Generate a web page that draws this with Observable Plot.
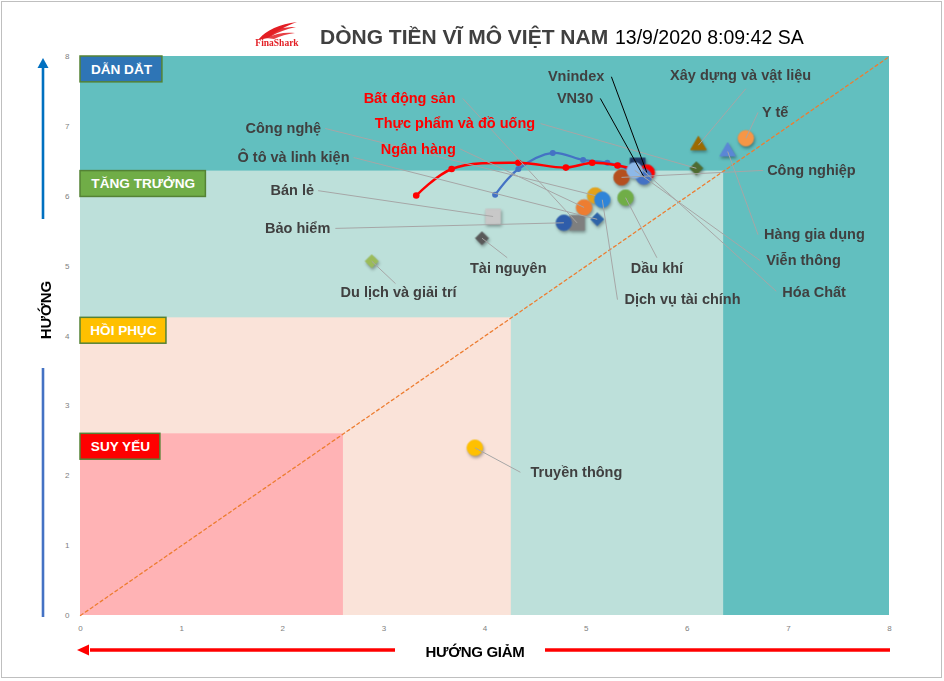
<!DOCTYPE html>
<html>
<head>
<meta charset="utf-8">
<script src="https://cdn.jsdelivr.net/npm/d3@7"></script>
<script src="https://cdn.jsdelivr.net/npm/@observablehq/plot@0.6"></script>
<style>
  body { margin: 0; background: #fff; font-family: "Liberation Sans", Arial, sans-serif; }
  #wrap { position: relative; width: 944px; height: 681px; overflow: hidden; background: #fff; }
  #wrap > svg.plot { position: absolute; left: 0; top: 0; }
  .abs { position: absolute; white-space: nowrap; }
  #border { position: absolute; left: 1px; top: 1px; width: 939px; height: 675px; border: 1px solid #BFBFBF; pointer-events: none; }
  #title { left: 320px; top: 25px; font-size: 21px; font-weight: bold; color: #404040; }
  #stamp { left: 615px; top: 26px; font-size: 19.5px; color: #000; }
  #ylab { left: 45px; top: 310px; transform: translate(-50%, -50%) rotate(-90deg); font-size: 15px; font-weight: bold; color: #000; }
  #xlab { left: 475px; top: 651px; transform: translate(-50%, -50%); font-size: 15px; font-weight: bold; color: #000; letter-spacing: -0.3px; }
  .shadowed { filter: drop-shadow(1px 2px 1.5px rgba(0,0,0,0.35)); }
</style>
</head>
<body>
<div id="wrap"></div>
<script>
// ---------- data ----------
const sectors = ["Xây dựng và vật liệu", "Y tế", "Hàng gia dụng", "Thực phẩm và đồ uống", "Hóa Chất",
  "Công nghiệp", "Vnindex", "VN30", "Viễn thông", "Dầu khí", "Công nghệ", "Dịch vụ tài chính",
  "Ngân hàng", "Ô tô và linh kiện", "Bất động sản", "Bảo hiểm", "Bán lẻ", "Tài nguyên",
  "Du lịch và giải trí", "Truyền thông"];
const xValues = [6.11, 6.58, 6.40, 6.09, 5.51, 5.35, 5.60, 5.57, 5.48, 5.39, 5.09, 5.16,
  4.98, 5.11, 4.91, 4.78, 4.08, 3.97, 2.88, 3.90];
const yValues = [6.73, 6.83, 6.64, 6.40, 6.44, 6.27, 6.34, 6.28, 6.37, 5.98, 6.01, 5.95,
  5.84, 5.67, 5.62, 5.62, 5.71, 5.40, 5.07, 2.40];
const shapes = ["triangle", "circle", "triangle", "diamond2", "square", "circle", "circle", "circle",
  "circle", "circle", "circle", "circle", "circle", "diamond2", "square", "circle", "square",
  "diamond2", "diamond2", "circle"];
const colors = ["#9C6A00", "#F79646", "#5B86D6", "#4E6B30", "#1F3864", "#B5501F", "#FF0000", "#4472C4",
  "#8DB8E8", "#70AD47", "#E3A21A", "#2E84D8", "#ED7D31", "#2E64A8", "#7F7F7F", "#2F5DAA", "#C8C8C8",
  "#595959", "#9BBB59", "#FFC000"];
const highlighted = ["Bất động sản", "Thực phẩm và đồ uống", "Ngân hàng"];
const indexNames = ["Vnindex", "VN30"];

// trails (recent path of the two indices)
const vnindexTrailX = [3.32, 3.67, 4.33, 4.80, 5.06, 5.31, 5.60];
const vnindexTrailY = [6.01, 6.39, 6.48, 6.41, 6.48, 6.44, 6.34];
const vn30TrailX = [4.10, 4.33, 4.67, 4.97, 5.21, 5.32, 5.57];
const vn30TrailY = [6.02, 6.39, 6.62, 6.52, 6.48, 6.44, 6.28];

// quadrant zones
const zoneEdges = [8, 6.36, 4.26, 2.6];
const zoneNames = ["DẪN DẮT", "TĂNG TRƯỞNG", "HỒI PHỤC", "SUY YẾU"];
const zoneFills = ["#62BFBF", "#BDE0DA", "#FAE3D9", "#FFB3B5"];
const zoneTagFills = ["#2E75B6", "#70AD47", "#FFC000", "#FF0000"];

const xTicks = [0, 1, 2, 3, 4, 5, 6, 7, 8];
const yTicks = [0, 1, 2, 3, 4, 5, 6, 7, 8];

// ---------- annotation layout (label anchor + leader start, data units) ----------
const labelLayout = {
  "Vnindex":              {tx: 5.18, ty: 7.71, lx: 5.25, ly: 7.71, anchor: "end"},
  "VN30":                 {tx: 5.07, ty: 7.40, lx: 5.14, ly: 7.40, anchor: "end"},
  "Bất động sản":         {tx: 2.80, ty: 7.40, lx: 3.78, ly: 7.40, anchor: "start"},
  "Thực phẩm và đồ uống": {tx: 2.91, ty: 7.04, lx: 4.55, ly: 7.04, anchor: "start"},
  "Ngân hàng":            {tx: 2.97, ty: 6.67, lx: 3.75, ly: 6.68, anchor: "start"},
  "Công nghệ":            {tx: 2.38, ty: 6.97, lx: 2.42, ly: 6.97, anchor: "end"},
  "Ô tô và linh kiện":    {tx: 2.66, ty: 6.555, lx: 2.70, ly: 6.555, anchor: "end"},
  "Bán lẻ":               {tx: 2.31, ty: 6.08, lx: 2.35, ly: 6.08, anchor: "end"},
  "Bảo hiểm":             {tx: 2.47, ty: 5.54, lx: 2.52, ly: 5.54, anchor: "end"},
  "Tài nguyên":           {tx: 4.23, ty: 4.97, lx: 4.22, ly: 5.12, anchor: "middle"},
  "Du lịch và giải trí":  {tx: 3.145, ty: 4.62, lx: 3.115, ly: 4.75, anchor: "middle"},
  "Dầu khí":              {tx: 5.70, ty: 4.97, lx: 5.70, ly: 5.12, anchor: "middle"},
  "Dịch vụ tài chính":    {tx: 5.38, ty: 4.52, lx: 5.31, ly: 4.52, anchor: "start"},
  "Hàng gia dụng":        {tx: 6.76, ty: 5.45, lx: 6.70, ly: 5.45, anchor: "start"},
  "Viễn thông":           {tx: 6.78, ty: 5.08, lx: 6.72, ly: 5.08, anchor: "start"},
  "Hóa Chất":             {tx: 6.94, ty: 4.62, lx: 6.88, ly: 4.64, anchor: "start"},
  "Công nghiệp":          {tx: 6.79, ty: 6.37, lx: 6.75, ly: 6.37, anchor: "start"},
  "Xây dựng và vật liệu": {tx: 5.83, ty: 7.73, lx: 6.58, ly: 7.54, anchor: "start"},
  "Y tế":                 {tx: 6.74, ty: 7.20, lx: 6.70, ly: 7.20, anchor: "start"},
  "Truyền thông":         {tx: 4.45, ty: 2.05, lx: 4.35, ly: 2.05, anchor: "start"}
};
const zoneTagWidths = [0.81, 1.24, 0.85, 0.79];
const zoneTagHeight = 0.37;
const symbolRadius = {circle: 7.8, square: 8.4, diamond2: 5.9, triangle: 5.8};

// ---------- build ----------
const points = sectors.map((name, i) => ({
  name, x: xValues[i], y: yValues[i], shape: shapes[i], color: colors[i],
  ...labelLayout[name],
  labelColor: highlighted.includes(name) ? "#FF0000" : "#404040",
  leaderColor: indexNames.includes(name) ? "#000000" : "#A6A6A6"
}));
// draw order: most markers first, the index cluster on top
const drawOrder = ["Hóa Chất", "Vnindex", "VN30", "Viễn thông"];
const markers = [...points].sort((a, b) => drawOrder.indexOf(a.name) - drawOrder.indexOf(b.name));

const zones = zoneEdges.map((e, i) => ({edge: e, fill: zoneFills[i], name: zoneNames[i],
  tag: zoneTagFills[i], w: zoneTagWidths[i]}));
const vnindexTrail = vnindexTrailX.map((x, i) => ({x, y: vnindexTrailY[i]}));
const vn30Trail = vn30TrailX.map((x, i) => ({x, y: vn30TrailY[i]}));
const diag = [{x: 0, y: 0}, {x: d3.max(zoneEdges), y: d3.max(zoneEdges)}];

const labelFont = {fontSize: 14.5, fontWeight: "bold", fontFamily: "'Liberation Sans', Arial, sans-serif"};

const plot = Plot.plot({
  width: 944,
  height: 681,
  marginTop: 56,
  marginLeft: 80,
  marginRight: 55,
  marginBottom: 66,
  x: {domain: [0, 8], ticks: xTicks, tickSize: 0, tickPadding: 10, label: null},
  y: {domain: [0, 8], ticks: yTicks, tickSize: 0, tickPadding: 11, label: null},
  r: {type: "identity"},
  color: {type: "identity"},
  style: {fontFamily: "'Liberation Sans', Arial, sans-serif", fontSize: "8px", color: "#808080", background: "transparent", overflow: "visible"},
  marks: [
    Plot.rect(zones, {x1: () => 0, y1: () => 0, x2: "edge", y2: "edge", fill: "fill"}),
    Plot.line(diag, {x: "x", y: "y", stroke: "#ED7D31", strokeWidth: 1.3, strokeDasharray: "3,3"}),
    Plot.line(vn30Trail, {x: "x", y: "y", stroke: "#4472C4", strokeWidth: 2.2, curve: "catmull-rom"}),
    Plot.dot(vn30Trail.slice(0, -1), {x: "x", y: "y", r: 3, fill: "#4472C4"}),
    Plot.line(vnindexTrail, {x: "x", y: "y", stroke: "#FF0000", strokeWidth: 2.5, curve: "catmull-rom"}),
    Plot.dot(vnindexTrail.slice(0, -1), {x: "x", y: "y", r: 3.3, fill: "#FF0000"}),
    Plot.dot(markers, {x: "x", y: "y", symbol: "shape", r: d => symbolRadius[d.shape], fill: "color",
      stroke: "color", strokeWidth: 0.8, className: "shadowed"}),
    Plot.link(points, {x1: "lx", y1: "ly", x2: "x", y2: "y", stroke: "leaderColor", strokeWidth: 1}),
    ...["start", "end", "middle"].map(a =>
      Plot.text(points.filter(d => d.anchor === a), {x: "tx", y: "ty", text: "name", fill: "labelColor",
        textAnchor: a, ...labelFont})),
    Plot.rect(zones, {x1: () => 0, x2: "w", y1: "edge", y2: d => d.edge - zoneTagHeight, fill: "tag",
      stroke: "#548235", strokeWidth: 1.5}),
    Plot.text(zones, {x: d => d.w / 2, y: d => d.edge - zoneTagHeight / 2, text: "name", fill: "#FFFFFF",
      fontSize: 13.6, fontWeight: "bold", fontFamily: "'Liberation Sans', Arial, sans-serif"})
  ]
});
plot.classList.add("plot");
const wrap = document.getElementById("wrap");
wrap.appendChild(plot);

// ---------- decorations: title, logo, axis arrows ----------
wrap.insertAdjacentHTML("beforeend", `
<svg width="944" height="681" style="position:absolute;left:0;top:0;pointer-events:none">
  <g fill="#E31E24">
    <path d="M258,40 C266,30 280,24 297,22 C286,26 276,31 268,38 Z"/>
    <path d="M262,36 C272,29 284,27 296,27 C286,29 278,32 270,37 Z" opacity="0.9"/>
    <path d="M266,38 C276,33 286,32 295,33 C287,34 280,36 274,39 Z" opacity="0.85"/>
  </g>
  <text x="277" y="46" text-anchor="middle" font-family="'Liberation Serif','DejaVu Serif',serif" font-weight="bold" font-size="9.5" fill="#E31E24">FinaShark</text>
  <line x1="43" y1="219" x2="43" y2="66" stroke="#0070C0" stroke-width="2.6"/>
  <polygon points="43,58 37.5,68 48.5,68" fill="#0070C0"/>
  <line x1="43" y1="368" x2="43" y2="617" stroke="#4472C4" stroke-width="2.6"/>
  <line x1="90" y1="650" x2="395" y2="650" stroke="#FF0000" stroke-width="3.4"/>
  <polygon points="77,650 89,644.5 89,655.5" fill="#FF0000"/>
  <line x1="545" y1="650" x2="890" y2="650" stroke="#FF0000" stroke-width="3.4"/>
</svg>
<div class="abs" id="title">DÒNG TIỀN VĨ MÔ VIỆT NAM</div>
<div class="abs" id="stamp">13/9/2020 8:09:42 SA</div>
<div class="abs" id="ylab">HƯỚNG</div>
<div class="abs" id="xlab">HƯỚNG GIẢM</div>
<div id="border"></div>
`);
</script>
</body>
</html>
